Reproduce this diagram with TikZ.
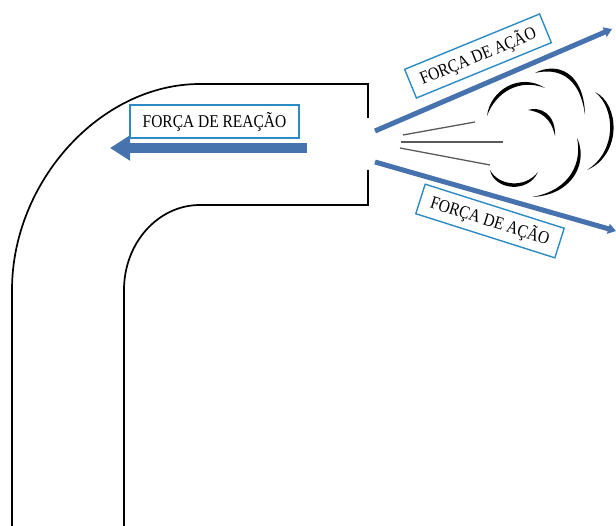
\documentclass[tikz,border=0pt]{standalone}
\usepackage{fontspec}
\setmainfont{Liberation Serif}
\newfontfamily\tagfont[FakeStretch=0.86]{Liberation Serif}
\usetikzlibrary{arrows.meta, calc}
\definecolor{fblue}{HTML}{4672AE}
\definecolor{bblue}{HTML}{2D8BC4}
\definecolor{sgray}{HTML}{5A5A5A}

% one tapered stroke of the smoke cloud
\newcommand{\puff}[4]{%
  \coordinate (pm) at ($(#1)!0.5!(#4)$);
  \fill (#1) .. controls (#2) and (#3) .. (#4)
    .. controls ($(#3)!6pt!(pm)$) and ($(#2)!6pt!(pm)$) .. (#1);}

\begin{document}
\begin{tikzpicture}[x=1pt, y=-1pt,
    tag/.style={draw=bblue, line width=1.4pt, fill=white,
      font=\tagfont\fontsize{18}{20}\selectfont, inner xsep=11pt, inner ysep=2pt,
      minimum height=31pt},
    force/.style={fblue, line width=5pt, -{Triangle[width=10pt,length=8pt]}}]
  \useasboundingbox (0,0) rectangle (616,526);

  % pipe walls
  \draw[line width=1.7pt] (12,526) -- (12,290) .. controls (12,182) and (100,84) .. (200,84)
    -- (368,84) -- (368,118);
  \draw[line width=1.7pt] (124,526) -- (124,290) .. controls (124,243) and (158,205) .. (200,205)
    -- (368,205) -- (368,170);

  % reaction
  \coordinate (rtail) at (307,148);
  \coordinate (rtip) at (110,148);
  \draw[fblue, line width=10pt, -{Triangle[width=24pt,length=20pt]}] (rtail) -- (rtip);
  \node[tag, minimum width=169pt, minimum height=33pt] (reacao) at (214.5,121.5) {FORÇA DE REAÇÃO};

  % action
  \coordinate (ustart) at (375,131);
  \coordinate (uend) at (612,29);
  \coordinate (lstart) at (375,162);
  \coordinate (lend) at (616,231);
  \draw[force] (ustart) -- (uend);
  \draw[force] (lstart) -- (lend);
  \node[tag, rotate=22.3] (acaoup) at (478,56) {FORÇA DE AÇÃO};
  \node[tag, rotate=-17.6] (acaolow) at (490,221) {FORÇA DE AÇÃO};

  % exhaust
  \draw[sgray, line width=1.3pt] (403,135) -- (475,122);
  \draw[sgray, line width=1.3pt] (401,142) -- (503,142);
  \draw[sgray, line width=1.3pt] (400,148) -- (490,165);
  \puff{487,116}{490,90}{520,72}{545,88}
  \puff{535,73}{555,62}{584,70}{585,115}
  \puff{528,110}{540,106}{556,114}{555,136}
  \puff{595,92}{620,104}{622,155}{587,170}
  \puff{577,138}{588,160}{575,195}{532,197}
  \puff{490,170}{494,190}{528,194}{538,172}
\end{tikzpicture}
\end{document}
